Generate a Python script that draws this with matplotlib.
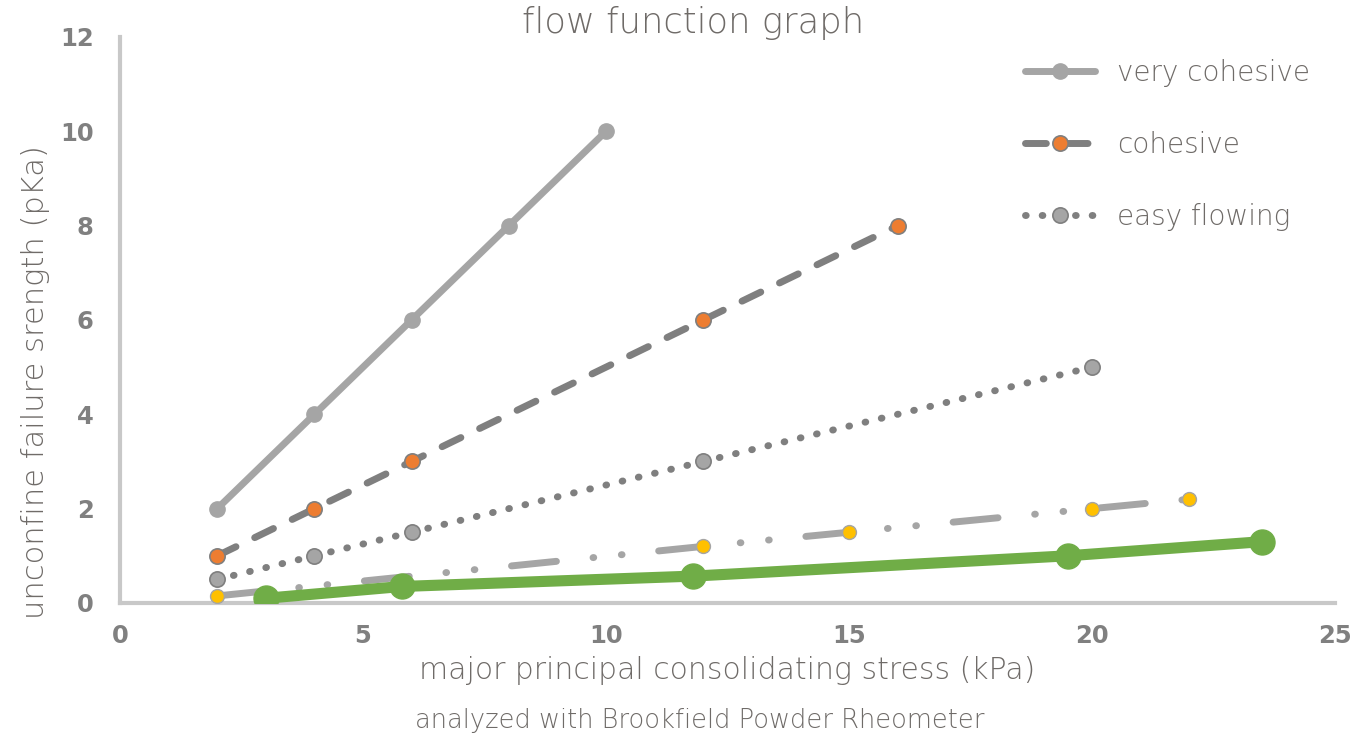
import matplotlib
matplotlib.use('Agg')
import matplotlib.pyplot as plt

# series
vc_x = [2, 4, 6, 8, 10]
vc_y = [2, 4, 6, 8, 10]
coh_x = [2, 4, 6, 12, 16]
coh_y = [1, 2, 3, 6, 8]
easy_x = [2, 4, 6, 12, 20]
easy_y = [0.5, 1, 1.5, 3, 5]
free_x = [2, 12, 15, 20, 22]
free_y = [0.15, 1.2, 1.5, 2.0, 2.2]
sample_x = [3, 5.8, 11.8, 19.5, 23.5]
sample_y = [0.1, 0.35, 0.57, 1.0, 1.3]

legend_labels = ['very cohesive', 'cohesive', 'easy flowing']
x_ticks = [0, 5, 10, 15, 20, 25]
y_ticks = [0, 2, 4, 6, 8, 10, 12]

plt.rcParams['font.family'] = ['DejaVu Sans']
text_col = '#6f6b68'

fig = plt.figure(figsize=(13.53, 7.34), dpi=100)
ax = fig.add_axes([0.0887, 0.1785, 0.8980, 0.7711])

ax.plot(vc_x, vc_y, color='#a5a5a5', lw=5, solid_capstyle='round',
        marker='o', ms=11, mfc='#a5a5a5', mec='#a5a5a5', label=legend_labels[0], zorder=3)
ax.plot(coh_x, coh_y, color='#7f7f7f', lw=5, ls=(0, (3, 3.0)), dash_capstyle='round',
        marker='o', ms=11, mfc='#ed7d31', mec='#7f7f7f', mew=1.2,
        label=legend_labels[1], zorder=3)
ax.plot(easy_x, easy_y, color='#7f7f7f', lw=5, ls=(0, (0.1, 2.3)), dash_capstyle='round',
        marker='o', ms=11, mfc='#a5a5a5', mec='#7f7f7f', mew=1.2,
        label=legend_labels[2], zorder=3)
ax.plot(free_x, free_y, color='#a5a5a5', lw=5, ls=(0, (6.5, 5.3, 0.1, 4.0, 0.1, 5.3)),
        dash_capstyle='round', marker='o', ms=10, mfc='#ffc000', mec='#a5a5a5',
        mew=1.0, zorder=3)
ax.plot(sample_x, sample_y, color='#70ad47', lw=8, solid_capstyle='round',
        marker='o', ms=18, mfc='#70ad47', mec='#70ad47', zorder=4)

ax.set_xlim(0, 25)
ax.set_ylim(0, 12)
ax.set_xticks(x_ticks)
ax.set_yticks(y_ticks)
ax.tick_params(length=0, labelsize=17.5, labelcolor='#808080')
ax.tick_params(axis='x', pad=15)
ax.tick_params(axis='y', pad=19)
for lab in ax.get_xticklabels() + ax.get_yticklabels():
    lab.set_fontweight('bold')

for side in ['top', 'right']:
    ax.spines[side].set_visible(False)
for side in ['left', 'bottom']:
    ax.spines[side].set_color('#c8c8c8')
    ax.spines[side].set_linewidth(3)

fig.text(0.512, 0.968, 'flow function graph', ha='center', va='center',
         fontsize=25.5, color=text_col, fontweight='light')
ax.set_xlabel('major principal consolidating stress (kPa)', fontsize=21.5,
              color=text_col, labelpad=6, fontweight='light')
ax.set_ylabel('unconfine failure srength (pKa)', fontsize=22, color=text_col,
              fontweight='light')
ax.yaxis.set_label_coords(-0.0576, 0.39)

fig.text(0.517, 0.019, 'analyzed with Brookfield Powder Rheometer', ha='center',
         va='center', fontsize=18.5, color=text_col, fontweight='light')

leg = ax.legend(loc='upper right', bbox_to_anchor=(1.0, 1.005), frameon=False,
                fontsize=20, handlelength=2.5, labelspacing=1.58,
                handletextpad=0.8)
for t in leg.get_texts():
    t.set_color(text_col)
    t.set_fontweight('light')

fig.savefig('out.png', dpi=100)
